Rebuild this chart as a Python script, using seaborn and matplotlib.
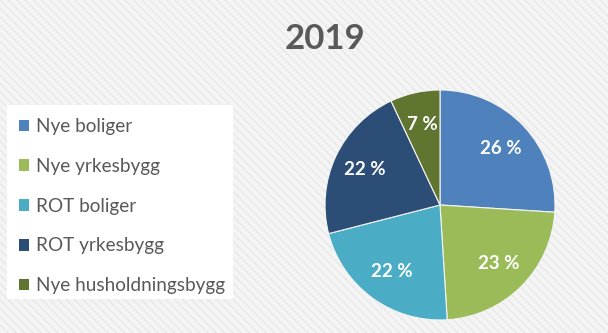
import matplotlib
matplotlib.use("Agg")
import matplotlib.pyplot as plt
import seaborn as sns
from matplotlib.patches import Rectangle, Patch

categories = ["Nye boliger", "Nye yrkesbygg", "ROT boliger", "ROT yrkesbygg", "Nye husholdningsbygg"]
values = [26, 23, 22, 22, 7]
colors = ["#4F81BD", "#9BBB59", "#4BACC6", "#2C4D75", "#5F7530"]
title = "2019"

sns.set_theme(style="white")
plt.rcParams['font.family'] = ['Lato', 'DejaVu Sans']

fig = plt.figure(figsize=(6.08, 3.33), dpi=100)
fig.patch.set_facecolor("#f4f4f4")
bg = Rectangle((0, 0), 1, 1, transform=fig.transFigure, facecolor="none",
               edgecolor="#e8e8e8", hatch="\\\\\\\\", linewidth=0, zorder=-10)
fig.patches.append(bg)

# legend white box
box = Rectangle((7/608, 1 - 299/333), (233-7)/608, (299-105)/333, transform=fig.transFigure,
                facecolor="white", edgecolor="none", zorder=0)
fig.patches.append(box)

ax = fig.add_axes([325/608, 1 - 320/333, 230/608, 230/333])
wedges, texts, autotexts = ax.pie(values, colors=colors, startangle=90, counterclock=False,
                                  autopct=lambda p: f"{p:.0f} %", pctdistance=0.72,
                                  wedgeprops=dict(linewidth=0.8, edgecolor="#f4f4f4"),
                                  textprops=dict(color="white", fontsize=13.5, fontweight="bold"))
ax.set_aspect("equal")
ax.set_xlim(-1, 1)
ax.set_ylim(-1, 1)
ax.axis("off")

fig.text(325/608, 1 - 39/333, title, ha="center", va="center", fontsize=25,
         fontweight="bold", color="#595959")

handles = [Patch(facecolor=c, edgecolor="none") for c in colors]
leg = fig.legend(handles, categories, loc="upper left", bbox_to_anchor=(19/608, 1 - 118/333),
                 frameon=False, fontsize=13.7, labelcolor="#595959", handlelength=0.55,
                 handleheight=0.55, handletextpad=0.35, labelspacing=1.2, borderaxespad=0, borderpad=0)

fig.savefig("out.png", dpi=100, facecolor=fig.get_facecolor())
